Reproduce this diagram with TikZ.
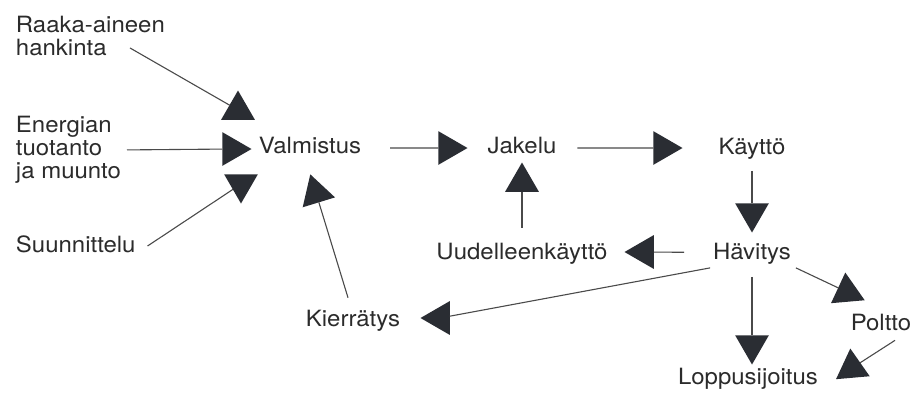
\documentclass[tikz,border=0pt]{standalone}
\usepackage{fontspec}
\setmainfont{TeX Gyre Heros}[FakeStretch=1.07]
\usetikzlibrary{shapes.geometric,calc}
\definecolor{ink}{HTML}{2B2B2B}
\definecolor{trifill}{HTML}{2A2D33}
\definecolor{wirecol}{HTML}{4A4A4A}
\begin{document}
\begin{tikzpicture}[x=1pt,y=-1pt,
  lbl/.style={font=\fontsize{22.4}{23.3}\selectfont, text=ink, inner sep=0pt, outer sep=0pt},
  tri/.style={regular polygon, regular polygon sides=3, minimum size=39pt,
              inner sep=0pt, outer sep=0pt, fill=trifill, draw=none},
  wire/.style={draw=wirecol, line width=1.1pt}]
\useasboundingbox[fill=white] (0,0) rectangle (919,392);

% text nodes
\node[lbl, anchor=north west, align=left] (raaka) at (16,16) {Raaka-aineen\\hankinta};
\node[lbl, anchor=north west, align=left] (energian) at (16,116) {Energian\\tuotanto\\ja muunto};
\node[lbl, anchor=base west] (suunn) at (16,252) {Suunnittelu};
\node[lbl, anchor=base] (valm) at (310,153) {Valmistus};
\node[lbl, anchor=base] (jakelu) at (522,153) {Jakelu};
\node[lbl, anchor=base] (kaytto) at (752,154) {Käyttö};
\node[lbl, anchor=base] (havitys) at (752,259) {Hävitys};
\node[lbl, anchor=base] (uud) at (522,259) {Uudelleenkäyttö};
\node[lbl, anchor=base] (kierr) at (353,326) {Kierrätys};
\node[lbl, anchor=base] (poltto) at (881,330) {Poltto};
\node[lbl, anchor=base] (lopp) at (748,384) {Loppusijoitus};

% triangle heads
\node[tri] (t1) at (238,110) {};
\node[tri, shape border rotate=-90] (t2) at (232,149) {};
\node[tri, shape border rotate=180] (t3) at (241,184) {};
\node[tri, shape border rotate=-90] (t4) at (448,148) {};
\node[tri, shape border rotate=-90] (t5) at (663,148) {};
\node[tri] (t6) at (522,182) {};
\node[tri, shape border rotate=17] (t7) at (316,193) {};
\node[tri, shape border rotate=180] (t8) at (752,213) {};
\node[tri, shape border rotate=90] (t9) at (644,252) {};
\node[tri, shape border rotate=90] (t10) at (440,318) {};
\node[tri, shape border rotate=180] (t11) at (752,345) {};
\node[tri, shape border rotate=5] (t12) at (847,292) {};
\node[tri, shape border rotate=5] (t13) at (852,368) {};

% connectors
\draw[wire] ($(raaka.south west)+(114,-8)$) -- (t1);
\draw[wire] ($(energian.west)+(111,0)$) -- (t2);
\draw[wire] ($(suunn.base east)+(12,-6)$) -- (t3);
\draw[wire] ($(valm.east)+(29,3)$) -- (t4);
\draw[wire] ($(jakelu.east)+(21,3)$) -- (t5);
\draw[wire] ($(uud.north)+(0,-15)$) -- (t6);
\draw[wire] ($(kierr.north)+(-5,-12)$) -- (t7);
\draw[wire] ($(kaytto.south)+(0,12)$) -- (t8);
\draw[wire] ($(havitys.west)+(-29,-1)$) -- (t9);
\draw[wire] ($(havitys.south west)+(-3,4)$) -- (t10);
\draw[wire] ($(havitys.south)+(0,13)$) -- (t11);
\draw[wire] ($(havitys.south east)+(5,4)$) -- (t12);
\draw[wire] ($(poltto.south)+(14,10)$) -- (t13);
\end{tikzpicture}
\end{document}
